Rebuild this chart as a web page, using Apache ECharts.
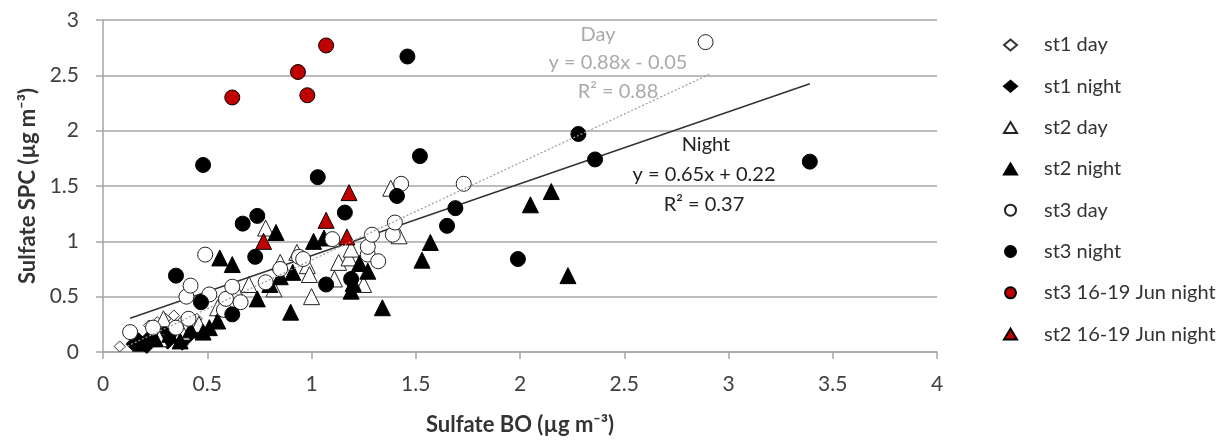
<!DOCTYPE html>
<html>
<head>
<meta charset="utf-8">
<script src="https://cdn.jsdelivr.net/npm/echarts@6/dist/echarts.min.js"></script>
<style>
  html, body { margin: 0; padding: 0; background: #fff; }
  #chart { width: 1228px; height: 441px; }
</style>
</head>
<body>
<div id="chart"></div>
<script>
// values, [BO, SPC]
const st1Day = [[0.08,0.05],[0.14,0.08],[0.22,0.24],[0.26,0.27],[0.30,0.30],[0.34,0.33],[0.38,0.28],[0.45,0.30],[0.55,0.35]];
const st1Night = [[0.14,0.07],[0.17,0.12],[0.19,0.09],[0.21,0.04],[0.22,0.14],[0.24,0.10],[0.26,0.17],[0.28,0.12],[0.30,0.20],[0.31,0.08],[0.33,0.15],[0.36,0.10],[0.38,0.07],[0.41,0.13],[0.44,0.18]];
const st2Day = [[0.27,0.12],[0.29,0.30],[0.38,0.18],[0.46,0.25],[0.55,0.40],[0.64,0.55],[0.70,0.61],[0.78,1.12],[0.82,0.57],[0.85,0.81],[0.93,0.90],[0.98,0.78],[0.99,0.70],[1.00,0.50],[1.11,0.66],[1.13,0.81],[1.18,0.85],[1.19,0.93],[1.25,0.61],[1.38,1.48],[1.42,1.05]];
const st2Night = [[0.18,0.08],[0.25,0.12],[0.32,0.16],[0.37,0.10],[0.42,0.20],[0.48,0.18],[0.51,0.22],[0.55,0.28],[0.56,0.85],[0.62,0.79],[0.74,0.48],[0.80,0.61],[0.83,1.08],[0.85,0.68],[0.90,0.36],[0.91,0.72],[1.01,1.00],[1.06,1.03],[1.19,0.55],[1.20,0.62],[1.23,0.80],[1.27,0.73],[1.34,0.40],[1.53,0.83],[1.57,0.99],[2.05,1.33],[2.15,1.45],[2.23,0.69]];
const st3Day = [[0.13,0.18],[0.24,0.22],[0.35,0.22],[0.41,0.30],[0.40,0.50],[0.42,0.60],[0.49,0.88],[0.51,0.52],[0.58,0.38],[0.59,0.48],[0.62,0.59],[0.66,0.45],[0.78,0.63],[0.85,0.75],[0.94,0.86],[0.96,0.84],[1.10,1.02],[1.27,0.88],[1.27,0.95],[1.29,1.06],[1.32,0.82],[1.39,1.06],[1.40,1.17],[1.43,1.52],[1.73,1.52],[2.89,2.80]];
const st3Night = [[0.35,0.69],[0.47,0.45],[0.48,1.69],[0.62,0.34],[0.67,1.16],[0.73,0.86],[0.74,1.23],[1.03,1.58],[1.07,0.61],[1.16,1.26],[1.19,0.66],[1.41,1.41],[1.46,2.67],[1.52,1.77],[1.65,1.14],[1.69,1.30],[1.99,0.84],[2.28,1.97],[2.36,1.74],[3.39,1.72]];
const st3Jun = [[0.62,2.30],[0.935,2.53],[0.98,2.32],[1.07,2.77]];
const st2Jun = [[0.77,1.00],[1.07,1.19],[1.17,1.04],[1.18,1.44]];

// regression fits shown on the figure
const dayFit = { slope: 0.88, icept: -0.05, from: 0.1, to: 2.91 };
const nightFit = { slope: 0.65, icept: 0.22, from: 0.13, to: 3.39 };

const yTicks = [0, 0.5, 1, 1.5, 2, 2.5, 3];

const font = 'Lato, "Open Sans", sans-serif';

function fitLine(f) {
  return [[f.from, f.slope * f.from + f.icept], [f.to, f.slope * f.to + f.icept]];
}

function pts(name, data, symbol, size, fill, border) {
  return {
    name: name, type: 'scatter', data: data,
    symbol: symbol, symbolSize: size,
    itemStyle: { color: fill, borderColor: border || '#000', borderWidth: 1, opacity: 1 }
  };
}

let myChart = echarts.init(document.getElementById('chart'));

myChart.setOption({
  animation: false,
  grid: { left: 103, right: 291, top: 20, bottom: 88 },
  legend: {
    orient: 'vertical',
    left: 998, top: 30,
    itemWidth: 13, itemHeight: 11, itemGap: 21.3,
    textStyle: { fontFamily: font, fontSize: 20, color: '#333', padding: [0, 0, 0, 22] },
    data: ['st1 day', 'st1 night', 'st2 day', 'st2 night', 'st3 day', 'st3 night', 'st3 16-19 Jun night', 'st2 16-19 Jun night']
  },
  xAxis: {
    type: 'value', min: 0, max: 4, interval: 0.5,
    name: 'Sulfate BO (µg m⁻³)', nameLocation: 'middle', nameGap: 62,
    nameTextStyle: { fontFamily: font, fontSize: 22, fontWeight: 'bold', color: '#333' },
    axisLine: { show: true, lineStyle: { color: '#a6a6a6', width: 1.5 } },
    axisTick: { show: true, length: 7, lineStyle: { color: '#a6a6a6', width: 1.5 } },
    axisLabel: { margin: 22, fontFamily: font, fontSize: 21, color: '#404040' },
    splitLine: { show: false }
  },
  yAxis: {
    type: 'value', min: 0, max: 3, interval: 0.5,
    name: 'Sulfate SPC (µg m⁻³)', nameLocation: 'middle', nameGap: 64,
    nameTextStyle: { fontFamily: font, fontSize: 22, fontWeight: 'bold', color: '#333' },
    axisLine: { show: true, lineStyle: { color: '#a6a6a6', width: 1.5 } },
    axisTick: { show: true, length: 7, lineStyle: { color: '#a6a6a6', width: 1.5 } },
    axisLabel: { margin: 24, fontFamily: font, fontSize: 21, color: '#404040',
      formatter: function (v) { return yTicks.indexOf(v) >= 0 ? String(v) : ''; } },
    splitLine: { show: true, lineStyle: { color: '#a6a6a6', width: 1.5 } }
  },
  series: [
    {
      name: 'dayFit', type: 'line', data: fitLine(dayFit), symbol: 'none', z: 5,
      lineStyle: { color: '#9a9a9a', width: 1.2, type: [2, 2] }, silent: true
    },
    {
      name: 'nightFit', type: 'line', data: fitLine(nightFit), symbol: 'none', z: 1,
      lineStyle: { color: '#333', width: 1.5 }, silent: true
    },
    pts('st1 day', st1Day, 'diamond', 11, '#fff', '#333'),
    pts('st1 night', st1Night, 'diamond', 12, '#000'),
    pts('st2 day', st2Day, 'triangle', 16, '#fff', '#222'),
    pts('st2 night', st2Night, 'triangle', 16, '#000'),
    pts('st3 day', st3Day, 'circle', 15, '#fff', '#222'),
    pts('st3 night', st3Night, 'circle', 15, '#000'),
    pts('st3 16-19 Jun night', st3Jun, 'circle', 15, '#c00000'),
    pts('st2 16-19 Jun night', st2Jun, 'triangle', 16, '#c00000')
  ],
  graphic: [
    { type: 'text', x: 598, y: 35, style: { text: 'Day', font: '20px ' + font, fill: '#aaaaaa', align: 'center', verticalAlign: 'middle' } },
    { type: 'text', x: 618, y: 63, style: { text: 'y = 0.88x - 0.05', font: '20px ' + font, fill: '#aaaaaa', align: 'center', verticalAlign: 'middle' } },
    { type: 'text', x: 618, y: 92, style: { text: 'R² = 0.88', font: '20px ' + font, fill: '#aaaaaa', align: 'center', verticalAlign: 'middle' } },
    { type: 'text', x: 706, y: 145, style: { text: 'Night', font: '20px ' + font, fill: '#222', align: 'center', verticalAlign: 'middle' } },
    { type: 'text', x: 704, y: 175, style: { text: 'y = 0.65x + 0.22', font: '20px ' + font, fill: '#222', align: 'center', verticalAlign: 'middle' } },
    { type: 'text', x: 704, y: 205, style: { text: 'R² = 0.37', font: '20px ' + font, fill: '#222', align: 'center', verticalAlign: 'middle' } }
  ]
});
</script>
</body>
</html>
